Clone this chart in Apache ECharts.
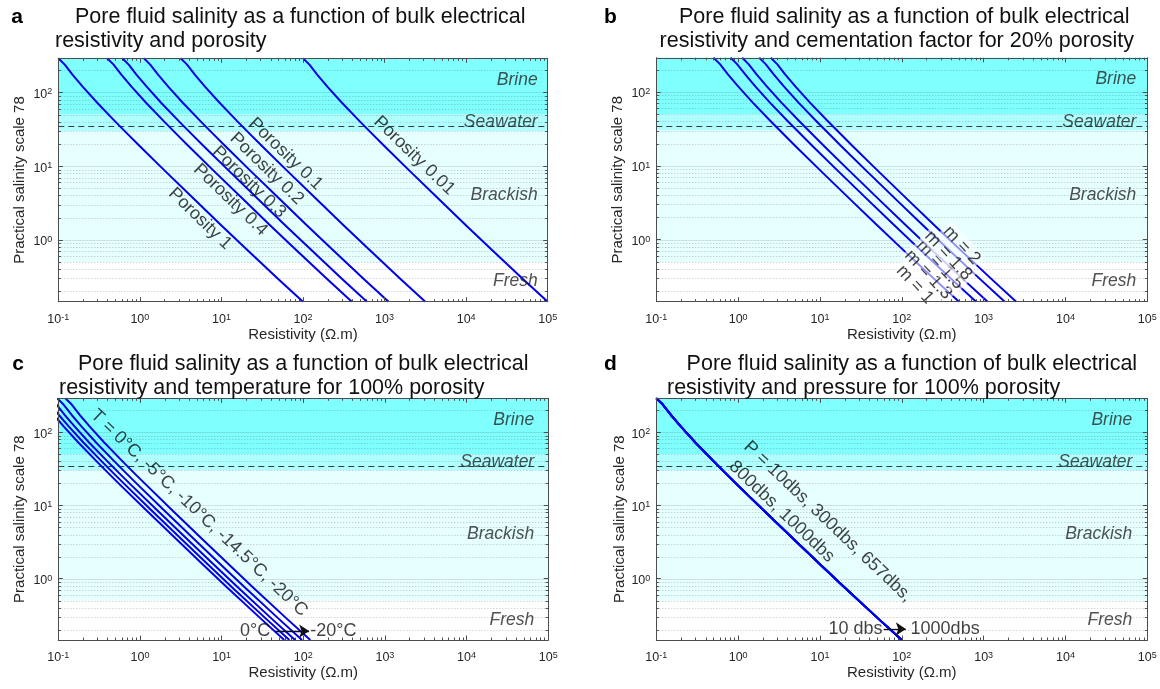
<!DOCTYPE html>
<html><head><meta charset="utf-8">
<script src="https://cdn.jsdelivr.net/npm/echarts@6/dist/echarts.min.js"></script>
<style>html,body{margin:0;padding:0;background:#fff}#c{width:1160px;height:689px}</style>
</head><body><div id="c"></div>
<script>
// ================= DATA =================
const xTickDecades = [0.1, 1, 10, 100, 1000, 10000, 100000];
const yTickDecades = [0.1, 1, 10, 100];
const minorMultipliers = [2, 3, 4, 5, 6, 7, 8, 9];
const yMajor = [1, 10, 100];
const xRange = [0.1, 100000];
const yRange = [0.145, 290];
const seawaterLevel = 35;
const zoneNames = ['Brine', 'Seawater', 'Brackish', 'Fresh'];
const zoneLabelS = [147, 39.3, 4.07, 0.273];
const zoneLow = [50, 30, 0.5];
const zoneHigh = [1000, 50, 30];

// salinity levels (PSS-78) at which each curve's resistivity was read
const salinity = [290, 238, 173, 119, 72.3, 40.2, 27.6, 18.6, 8.76, 3.28, 1.57, 0.758, 0.293, 0.145];

// panel a: porosity
const porosityNames = ['Porosity 1', 'Porosity 0.4', 'Porosity 0.3', 'Porosity 0.2', 'Porosity 0.1', 'Porosity 0.01'];
const resPor1   = [0.1, 0.12, 0.15, 0.2, 0.3, 0.5, 0.7, 1, 2, 5, 10, 20, 50, 100];
const resPor04  = [0.397, 0.476, 0.596, 0.794, 1.19, 1.99, 2.78, 3.97, 7.94, 19.9, 39.7, 79.4, 199, 397];
const resPor03  = [0.608, 0.73, 0.912, 1.22, 1.82, 3.04, 4.26, 6.08, 12.2, 30.4, 60.8, 122, 304, 608];
const resPor02  = [1.12, 1.34, 1.68, 2.24, 3.36, 5.6, 7.84, 11.2, 22.4, 56, 112, 224, 560, 1120];
const resPor01  = [3.16, 3.79, 4.74, 6.32, 9.49, 15.8, 22.1, 31.6, 63.2, 158, 316, 632, 1580, 3160];
const resPor001 = [100, 120, 150, 200, 300, 500, 700, 1000, 2000, 5000, 10000, 20000, 50000, 100000];
const porLabelR = [5.46, 12.9, 21.8, 36, 61.4, 2312];
const porLabelS = [1.93, 3.49, 6.05, 9.2, 14.6, 13.9];

// panel b: cementation factor
const mNames = ['m = 1', 'm = 1.3', 'm = 1.5', 'm = 1.8', 'm = 2'];
const resM1  = [0.5, 0.6, 0.75, 1.0, 1.5, 2.5, 3.5, 5, 10, 25, 50, 100, 250, 500];
const resM13 = [0.81, 0.97, 1.22, 1.62, 2.43, 4.05, 5.67, 8.1, 16.2, 40.5, 81, 162, 405, 810];
const resM15 = [1.12, 1.34, 1.68, 2.24, 3.36, 5.6, 7.84, 11.2, 22.4, 56, 112, 224, 560, 1120];
const resM18 = [1.81, 2.17, 2.72, 3.62, 5.43, 9.05, 12.7, 18.1, 36.2, 90.5, 181, 362, 905, 1810];
const resM2  = [2.5, 3.0, 3.75, 5, 7.5, 12.5, 17.5, 25, 50, 125, 250, 500, 1250, 2500];
const mLabelR = [145, 211, 293, 370, 540];
const mLabelS = [0.247, 0.337, 0.46, 0.61, 0.84];

// panel c: temperature
const tempNames = ['0°C', '-5°C', '-10°C', '-14.5°C', '-20°C'];
const resT0   = [0.0585, 0.0702, 0.0878, 0.117, 0.176, 0.293, 0.41, 0.585, 1.17, 2.93, 5.85, 11.7, 29.3, 58.5];
const resT5   = [0.0676, 0.0811, 0.101, 0.135, 0.203, 0.338, 0.473, 0.676, 1.35, 3.38, 6.76, 13.5, 33.8, 67.6];
const resT10  = [0.0794, 0.0953, 0.119, 0.159, 0.238, 0.397, 0.556, 0.794, 1.59, 3.97, 7.94, 15.9, 39.7, 79.4];
const resT145 = [0.0966, 0.116, 0.145, 0.193, 0.29, 0.483, 0.676, 0.966, 1.93, 4.83, 9.66, 19.3, 48.3, 96.6];
const resT20  = [0.122, 0.146, 0.182, 0.243, 0.365, 0.608, 0.851, 1.22, 2.43, 6.08, 12.2, 24.3, 60.8, 122];

// panel d: pressure (curves coincide)
const presNames = ['10dbs', '300dbs', '657dbs', '800dbs', '1000dbs'];
const resP10   = [0.1, 0.12, 0.15, 0.2, 0.3, 0.5, 0.7, 1, 2, 5, 10, 20, 50, 100];
const resP300  = [0.1, 0.12, 0.15, 0.2, 0.3, 0.5, 0.7, 1, 2, 5, 10, 20, 50, 100];
const resP657  = [0.1, 0.12, 0.15, 0.2, 0.3, 0.5, 0.7, 1, 2, 5, 10, 20, 50, 100];
const resP800  = [0.1, 0.12, 0.15, 0.2, 0.3, 0.5, 0.7, 1, 2, 5, 10, 20, 50, 100];
const resP1000 = [0.1, 0.12, 0.15, 0.2, 0.3, 0.5, 0.7, 1, 2, 5, 10, 20, 50, 100];

// texts
const titles = [
  ['Pore fluid salinity as a function of bulk electrical', 'resistivity and porosity'],
  ['Pore fluid salinity as a function of bulk electrical', 'resistivity and cementation factor for 20% porosity'],
  ['Pore fluid salinity as a function of bulk electrical', 'resistivity and temperature for 100% porosity'],
  ['Pore fluid salinity as a function of bulk electrical', 'resistivity and pressure for 100% porosity']
];
const panelLetters = ['a', 'b', 'c', 'd'];
const xName = 'Resistivity (Ω.m)';
const yName = 'Practical salinity scale 78';

// ================= STYLE / LAYOUT =================
const FONT = '"Liberation Sans", Arial, Helvetica, sans-serif';
const AX = '#4d4d4d';
const TXT = '#262626';
const BLUE = '#0000f0';
const zoneColors = ['#80ffff', '#b0ffff', '#e6ffff'];
const grids = [
  {left: 58.3, top: 58.3, width: 489.4, height: 243.4},
  {left: 656.3, top: 57.8, width: 491, height: 243.9},
  {left: 58.3, top: 398.3, width: 489.9, height: 241.7},
  {left: 656.3, top: 398.3, width: 491, height: 241.7}
];
const titlePos = [
  [[75, 17.5], [55, 40.8]],
  [[679, 17.5], [659.6, 40.8]],
  [[78, 364.2], [59, 387.8]],
  [[686.6, 364.2], [667, 387.8]]
];
const letterPos = [[17, 17], [610.5, 17], [18, 364], [610.5, 364]];
const yNameGap = [31, 31, 31, 28];
const zoneOffset = [-10, -11, -14, -15];

function fmtLog(v) {
  const l = Math.log10(v), e = Math.round(l);
  if (Math.abs(l - e) > 1e-6) return '';
  return '{b|10}{s|' + e + '}';
}
const rich = {
  b: {fontSize: 12.5, lineHeight: 14, fontFamily: FONT, color: TXT},
  s: {fontSize: 9, lineHeight: 5, verticalAlign: 'top', fontFamily: FONT, color: TXT}
};

const xAxes = [], yAxes = [];
grids.forEach((g, i) => {
  const common = {gridIndex: i, type: 'log', logBase: 10, z: 10,
    axisLine: {show: true, onZero: false, lineStyle: {color: AX, width: 1}},
    axisTick: {show: true, inside: true, length: 4.5, lineStyle: {color: AX, width: 1}},
    splitLine: {show: false}, minorTick: {show: false}};
  xAxes.push(Object.assign({}, common, {min: xRange[0], max: xRange[1], position: 'bottom',
    axisLabel: {formatter: fmtLog, rich: rich, margin: 11, showMinLabel: true, showMaxLabel: true},
    name: xName, nameLocation: 'middle', nameGap: 22,
    nameTextStyle: {fontSize: 15, fontFamily: FONT, color: TXT}}));
  xAxes.push(Object.assign({}, common, {min: xRange[0], max: xRange[1], position: 'top',
    axisLabel: {show: false}}));
  yAxes.push(Object.assign({}, common, {min: yRange[0], max: yRange[1], position: 'left',
    axisLabel: {formatter: fmtLog, rich: rich, margin: 6, padding: [4, 0, 0, 0]},
    name: yName, nameLocation: 'middle', nameGap: yNameGap[i], nameRotate: 90,
    nameTextStyle: {fontSize: 15, fontFamily: FONT, color: TXT}}));
  yAxes.push(Object.assign({}, common, {min: yRange[0], max: yRange[1], position: 'right',
    axisLabel: {show: false}}));
});

// grid / minor tick items
const gridItems = [];
xTickDecades.slice(0, -1).forEach(d => minorMultipliers.forEach(m => gridItems.push([d * m, 1, 0])));
yTickDecades.forEach(d => minorMultipliers.forEach(m => {
  const v = d * m; if (v > yRange[0] && v < yRange[1]) gridItems.push([1, v, 1]);
}));
yMajor.forEach(v => gridItems.push([1, v, 2]));
gridItems.push([1, seawaterLevel, 3]);

function ln(x1, y1, x2, y2, style) { return {type: 'line', shape: {x1, y1, x2, y2}, style}; }
const tickSt = {stroke: AX, lineWidth: 1};
function renderGrid(params, api) {
  const cs = params.coordSys;
  const L = cs.x, R = cs.x + cs.width, T = cs.y, B = cs.y + cs.height;
  const kind = api.value(2);
  if (kind === 0) {
    const x = Math.round(api.coord([api.value(0), 1])[0]) + 0.5;
    return {type: 'group', children: [ln(x, B, x, B - 2.5, tickSt), ln(x, T, x, T + 2.5, tickSt)]};
  }
  const y = Math.round(api.coord([1, api.value(1)])[1]) + 0.5;
  if (kind === 1) return {type: 'group', children: [
    ln(L, y, R, y, {stroke: 'rgba(40,40,40,0.28)', lineWidth: 1, lineDash: [1, 2]}),
    ln(L, y, L + 2.5, y, tickSt), ln(R, y, R - 2.5, y, tickSt)]};
  if (kind === 2) return ln(L, y, R, y, {stroke: 'rgba(40,40,40,0.13)', lineWidth: 1});
  return ln(L, y, R, y, {stroke: '#3a3a3a', lineWidth: 1.2, lineDash: [6, 4]});
}
function renderBand(params, api) {
  const cs = params.coordSys;
  const a = api.coord([1, api.value(1)])[1], b = api.coord([1, api.value(2)])[1];
  const top = Math.max(cs.y, Math.min(a, b)), bot = Math.min(cs.y + cs.height, Math.max(a, b));
  return {type: 'rect', shape: {x: cs.x, y: top, width: cs.width, height: bot - top},
    style: {fill: zoneColors[api.value(3)]}};
}

const series = [];
grids.forEach((g, i) => {
  series.push({type: 'custom', xAxisIndex: 2 * i, yAxisIndex: 2 * i, z: 1, silent: true,
    renderItem: renderBand, data: zoneLow.map((lo, k) => [1, lo, zoneHigh[k], k])});
  series.push({type: 'custom', xAxisIndex: 2 * i, yAxisIndex: 2 * i, z: 2, silent: true,
    renderItem: renderGrid, data: gridItems});
});

function curve(i, res, name) {
  return {type: 'line', name, xAxisIndex: 2 * i, yAxisIndex: 2 * i,
    data: res.map((r, k) => [r, salinity[k]]), symbol: 'none', showSymbol: false,
    smooth: false, clip: true, silent: true, z: 3,
    lineStyle: {color: BLUE, width: 2, join: 'round'}};
}
[resPor1, resPor04, resPor03, resPor02, resPor01, resPor001].forEach((r, k) => series.push(curve(0, r, porosityNames[k])));
[resM1, resM13, resM15, resM18, resM2].forEach((r, k) => series.push(curve(1, r, mNames[k])));
[resT0, resT5, resT10, resT145, resT20].forEach((r, k) => series.push(curve(2, r, tempNames[k])));
[resP10, resP300, resP657, resP800, resP1000].forEach((r, k) => series.push(curve(3, r, presNames[k])));

function lbl(x, y, text, o) {
  o = o || {};
  return {value: [x, y], label: Object.assign({show: true, formatter: text, position: 'inside',
    fontSize: 18, fontFamily: FONT, color: '#111', align: 'center', verticalAlign: 'middle'}, o)};
}
function labelSeries(i, items, arrows) {
  const s = {type: 'scatter', xAxisIndex: 2 * i, yAxisIndex: 2 * i, symbolSize: 1, clip: false,
    itemStyle: {color: 'rgba(0,0,0,0)'}, silent: true, z: 5, data: items};
  if (arrows) s.markLine = {silent: true, symbol: ['none', 'arrow'], symbolSize: 10, z: 6,
    lineStyle: {color: '#111', width: 1.3, type: 'solid'}, itemStyle: {color: '#111'},
    label: {show: false}, data: arrows};
  return s;
}
function zoneItems(i) {
  return zoneNames.map((n, k) => lbl(xRange[1], zoneLabelS[k], n,
    {align: 'right', offset: [zoneOffset[i], 0], fontStyle: 'italic', fontSize: 17.5, color: TXT}));
}
series.push(labelSeries(0, zoneItems(0).concat(porosityNames.map((n, k) =>
  lbl(porLabelR[k], porLabelS[k], n, {rotate: -44})))));
series.push(labelSeries(1, zoneItems(1).concat(mNames.map((n, k) =>
  lbl(mLabelR[k], mLabelS[k], n, {rotate: -47, backgroundColor: 'rgba(255,255,255,0.7)', padding: [0, 2]})))));
series.push(labelSeries(2, zoneItems(2).concat([
  lbl(5.31, 7.84, 'T = 0°C, -5°C, -10°C, -14.5°C, -20°C', {rotate: -43.5}),
  lbl(39.4, 0.192, '0°C', {align: 'right'}),
  lbl(122, 0.192, '-20°C', {align: 'left'})
]), [[{coord: [45.4, 0.192]}, {coord: [118, 0.192]}]]));
series.push(labelSeries(3, zoneItems(3).concat([
  lbl(12.5, 6.02, 'P = 10dbs, 300dbs, 657dbs,', {rotate: -43.6}),
  lbl(3.41, 8.22, '800dbs, 1000dbs', {rotate: -43.6}),
  lbl(58, 0.205, '10 dbs', {align: 'right'}),
  lbl(128, 0.205, '1000dbs', {align: 'left'})
]), [[{coord: [60, 0.205]}, {coord: [112, 0.205]}]]));

const graphic = [];
titles.forEach((t, i) => {
  t.forEach((line, j) => graphic.push({type: 'text', x: titlePos[i][j][0], y: titlePos[i][j][1], z: 20,
    style: {text: line, fontSize: 21.5, fontFamily: FONT, fill: '#111', align: 'left', verticalAlign: 'middle'}}));
  graphic.push({type: 'text', x: letterPos[i][0], y: letterPos[i][1], z: 20,
    style: {text: panelLetters[i], fontSize: 21, fontWeight: 'bold', fontFamily: FONT, fill: '#000',
      align: 'center', verticalAlign: 'middle'}});
});

const chart = echarts.init(document.getElementById('c'), null, {renderer: 'canvas'});
chart.setOption({
  animation: false,
  backgroundColor: '#fff',
  grid: grids.map(g => Object.assign({containLabel: false}, g)),
  xAxis: xAxes, yAxis: yAxes, series, graphic
});
</script></body></html>
